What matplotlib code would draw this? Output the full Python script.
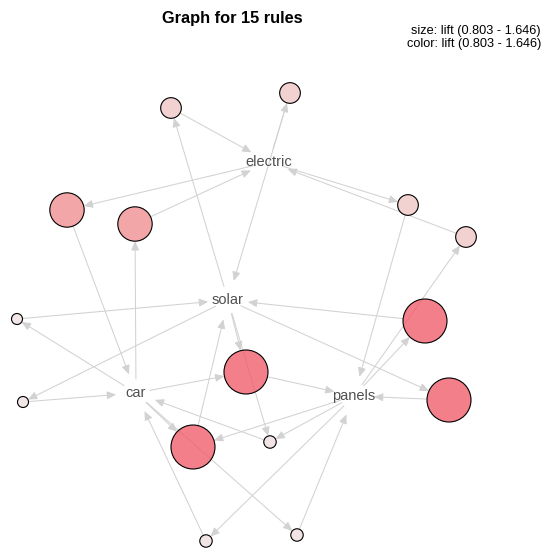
import numpy as np
import matplotlib
matplotlib.use("Agg")
import matplotlib.pyplot as plt
from matplotlib.patches import Circle, FancyArrowPatch
from matplotlib.colors import LinearSegmentedColormap

plt.rcParams["font.family"] = ["Liberation Sans", "DejaVu Sans"]

# ---------- data ---------------------------------------------------------- #
items = ["electric", "solar", "car", "panels"]
item_x = [269, 228, 136, 354]
item_y = [162, 300, 393, 396]

rule_lhs = [["solar"], ["electric"], ["electric"], ["car"], ["electric"],
            ["panels"], ["panels"], ["solar"], ["car", "solar"], ["car", "panels"],
            ["car"], ["solar"], ["panels", "solar"], ["panels"], ["car"]]
rule_rhs = ["electric", "solar", "car", "electric", "panels",
            "electric", "solar", "panels", "panels", "solar",
            "solar", "car", "car", "car", "panels"]
rule_lift = [1.05, 1.05, 1.40, 1.40, 1.05,
             1.05, 1.646, 1.646, 1.646, 1.646,
             0.803, 0.803, 0.84, 0.84, 0.84]
# layout (pixel positions of rule vertices)
rule_x = [171, 290, 67, 135, 408, 466, 425, 449, 246, 193, 17, 23, 270, 206, 297]
rule_y = [108, 93, 210, 224, 205, 237, 321, 400, 372, 447, 319, 402, 442, 541, 535]

LIFT_LO, LIFT_HI = 0.803, 1.646
# ------------------------------------------------------------------------- #

cmap = LinearSegmentedColormap.from_list(
    "lift", [(0.0, "#efe2e2"), (0.29, "#efc7c7"), (0.71, "#ef9092"), (1.0, "#ef5f6d")])
ipos = {n: np.array([x, y], float) for n, x, y in zip(items, item_x, item_y)}

fig = plt.figure(figsize=(5.44, 5.5), dpi=100)
ax = fig.add_axes([0, 0, 1, 1])
ax.set_xlim(0, 544)
ax.set_ylim(550, 0)
ax.axis("off")

EDGE_COL = "#d2d2d2"


def edge(p, q, s0, s1):
    u = (q - p) / np.linalg.norm(q - p)
    a = FancyArrowPatch(p + u * s0, q - u * s1,
                        arrowstyle="-|>,head_length=0.45,head_width=0.2",
                        mutation_scale=12, color=EDGE_COL, lw=0.75,
                        shrinkA=0, shrinkB=0, zorder=1)
    ax.add_patch(a)


for lhs, rhs, lift, x, y in zip(rule_lhs, rule_rhs, rule_lift, rule_x, rule_y):
    t = (lift - LIFT_LO) / (LIFT_HI - LIFT_LO)
    r = 5.5 + t * 16.5
    c = np.array([x, y], float)
    for it in lhs:
        edge(ipos[it], c, 14, r)
    edge(c, ipos[rhs], r, 20)
    fc = list(cmap(t))
    fc[3] = 0.8
    ax.add_patch(Circle((x, y), r, facecolor=fc, edgecolor="black",
                        lw=0.8, zorder=2))

for n in items:
    ax.text(ipos[n][0], ipos[n][1], n, ha="center", va="center",
            fontsize=10.5, color="#505050", zorder=3)

ax.text(232, 18, "Graph for 15 rules", ha="center", va="center",
        fontsize=11.8, fontweight="bold")
ax.text(541, 31, f"size: lift ({LIFT_LO:.3f} - {LIFT_HI:.3f})",
        ha="right", va="center", fontsize=9.2)
ax.text(541, 44, f"color: lift ({LIFT_LO:.3f} - {LIFT_HI:.3f})",
        ha="right", va="center", fontsize=9.2)

fig.savefig("out.png", dpi=100)
